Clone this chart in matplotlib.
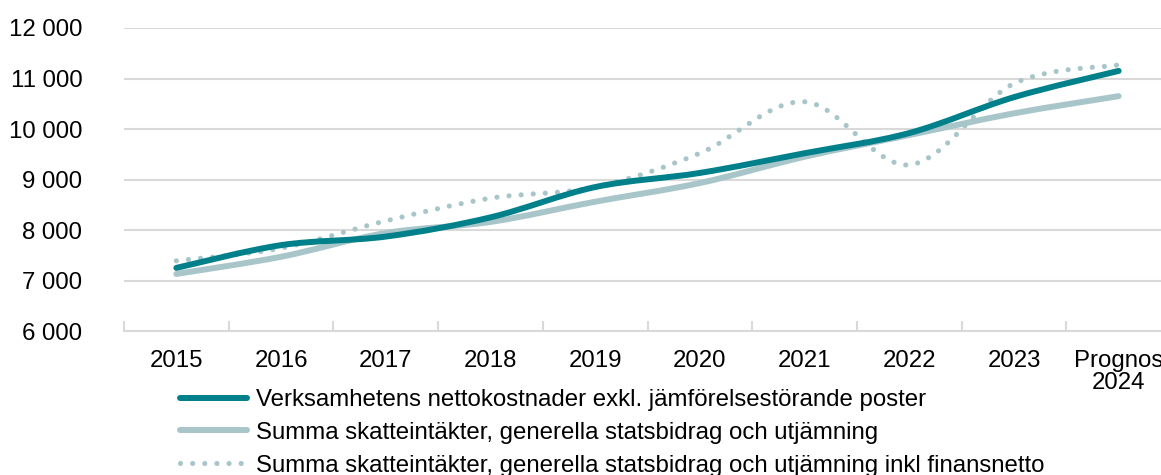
import matplotlib
matplotlib.use("Agg")
import matplotlib.pyplot as plt
import numpy as np
from matplotlib.path import Path
from matplotlib.patches import PathPatch
from matplotlib.lines import Line2D
from matplotlib.ticker import FuncFormatter, FixedLocator

plt.rcParams['font.family'] = ['Liberation Sans', 'DejaVu Sans']

categories = ["2015", "2016", "2017", "2018", "2019", "2020", "2021", "2022", "2023", "Prognos\n2024"]
netto = [7250, 7700, 7870, 8250, 8850, 9130, 9520, 9920, 10630, 11150]
skatt = [7130, 7470, 7940, 8160, 8560, 8930, 9450, 9880, 10310, 10650]
skatt_fin = [7390, 7640, 8180, 8630, 8850, 9520, 10540, 9290, 10900, 11270]
labels = ["Verksamhetens nettokostnader exkl. jämförelsestörande poster",
          "Summa skatteintäkter, generella statsbidrag och utjämning",
          "Summa skatteintäkter, generella statsbidrag och utjämning inkl finansnetto"]

TEAL = "#00808A"
LIGHT = "#A8C5CA"
GRID = "#D9D9D9"
FS = 17.3
LW = 4.3
DOT_LW = 3.7
DOT_STYLE = (0, (0.01, 2.35))


def smooth_path(xs, ys):
    pts = np.column_stack([xs, ys]).astype(float)
    n = len(pts)
    verts = [pts[0]]
    codes = [Path.MOVETO]
    for i in range(n - 1):
        p0 = pts[i - 1] if i > 0 else pts[i]
        p1 = pts[i]
        p2 = pts[i + 1]
        p3 = pts[i + 2] if i + 2 < n else pts[i + 1]
        c1 = p1 + (p2 - p0) / 6.0
        c2 = p2 - (p3 - p1) / 6.0
        verts += [c1, c2, p2]
        codes += [Path.CURVE4] * 3
    return Path(verts, codes)


fig = plt.figure(figsize=(11.61, 4.75), dpi=100)
W, H = 1161, 475
left, right = 124, 124 + 10 * 104.7
top, bottom = 28, 331
ax = fig.add_axes([left / W, (H - bottom) / H, (right - left) / W, (bottom - top) / H])

x = np.arange(len(categories))

ax.add_patch(PathPatch(smooth_path(x, skatt_fin), fill=False, edgecolor=LIGHT, lw=DOT_LW,
                       linestyle=DOT_STYLE, capstyle='round', zorder=3))
ax.add_patch(PathPatch(smooth_path(x, skatt), fill=False, edgecolor=LIGHT, lw=LW,
                       capstyle='round', joinstyle='round', zorder=4))
ax.add_patch(PathPatch(smooth_path(x, netto), fill=False, edgecolor=TEAL, lw=LW,
                       capstyle='round', joinstyle='round', zorder=5))

ax.set_xlim(-0.5, len(categories) - 0.5)
ax.set_ylim(6000, 12000)
ax.set_yticks(np.arange(6000, 12001, 1000))
ax.yaxis.set_major_formatter(FuncFormatter(lambda v, p: f"{int(v):,}".replace(",", " ")))
ax.grid(axis='y', color=GRID, lw=1.5)
ax.set_axisbelow(True)

ax.set_xticks(x)
ax.set_xticklabels(categories, fontsize=FS, linespacing=1.0)
ax.xaxis.set_minor_locator(FixedLocator(np.arange(-0.5, len(categories), 1.0)))
ax.tick_params(axis='x', which='major', length=0, pad=13.5)
ax.tick_params(axis='x', which='minor', length=7, direction='in', color=GRID, width=1.5)
ax.tick_params(axis='y', length=0, pad=30, labelsize=FS)

for s in ['left', 'right', 'top']:
    ax.spines[s].set_visible(False)
ax.spines['bottom'].set_color(GRID)
ax.spines['bottom'].set_linewidth(1.5)

handles = [Line2D([], [], color=TEAL, lw=LW, solid_capstyle='round'),
           Line2D([], [], color=LIGHT, lw=LW, solid_capstyle='round'),
           Line2D([], [], color=LIGHT, lw=DOT_LW, linestyle=DOT_STYLE, dash_capstyle='round')]
fig.legend(handles, labels, loc='upper left', bbox_to_anchor=(180 / W, 1 - 389 / H),
           frameon=False, fontsize=FS, handlelength=2.8, handletextpad=0.38,
           labelspacing=0.45, borderpad=0, borderaxespad=0)

fig.savefig("out.png", dpi=100)
